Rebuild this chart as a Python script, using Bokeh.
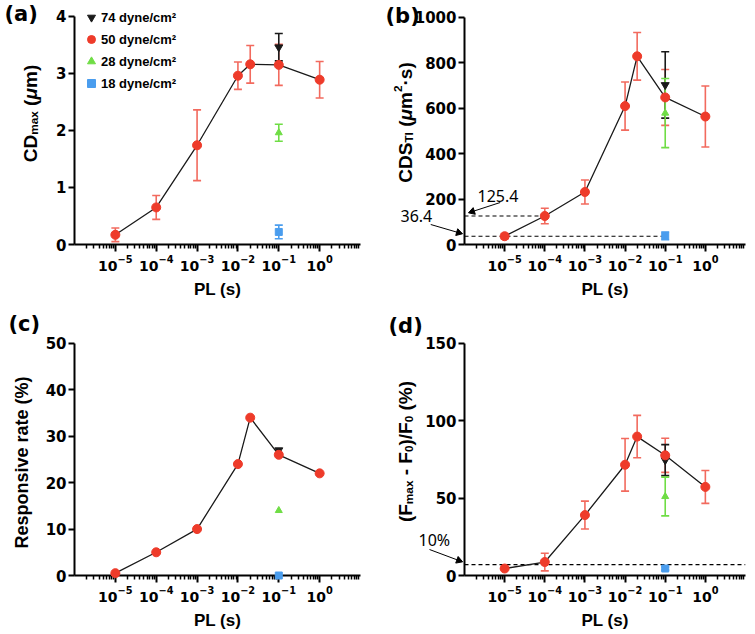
from math import pi, log10, atan2, cos, sin
from bokeh.plotting import figure
from bokeh.models import (Range1d, FixedTicker, ColumnDataSource, Whisker, TeeHead,
                          Legend, LegendItem)
from bokeh.core.properties import value
from bokeh.layouts import gridplot
from bokeh.embed import file_html
from bokeh.resources import INLINE

# ---------------- data ----------------
pl = [1e-5, 1e-4, 1e-3, 1e-2, 2e-2, 1e-1, 1.0]   # pulse length (s), 50 dyne/cm2
pl_single = [1e-1]                                 # other shear stresses

# (a) CDmax (um)
cd_50 = [0.17, 0.65, 1.74, 2.96, 3.16, 3.15, 2.89]
cd_50_err = [0.12, 0.21, 0.62, 0.24, 0.33, 0.36, 0.32]
cd_74, cd_74_err = [3.46], [0.24]
cd_28, cd_28_err = [1.96], [0.15]
cd_18, cd_18_err = [0.22], [0.12]

# (b) CDS_TI (um2 s)
cds_50 = [36.4, 125.4, 231, 609, 828, 647, 563]
cds_50_err = [12, 34, 53, 106, 105, 123, 134]
cds_74, cds_74_err = [702], [146]
cds_28, cds_28_err = [578], [152]
cds_18, cds_18_err = [38], [17]
cds_marks = [125.4, 36.4]          # dashed reference levels
cds_marks_end = [1e-4, 1e-1]       # x where each dashed level ends

# (c) responsive rate (%)
rr_50 = [0.5, 5, 10, 24, 34, 26, 22]
rr_74 = [27]
rr_28 = [14]
rr_18 = [0]

# (d) (Fmax - F0)/F0 (%)
df_50 = [4.5, 8.7, 39, 71.5, 89.7, 77.6, 57.2]
df_50_err = [0, 5.7, 9, 17, 13.7, 11, 10.6]
df_74, df_74_err = [74.5], [10]
df_28, df_28_err = [51], [12.5]
df_18, df_18_err = [4.5], [1]
df_mark = 7.0

x_lo, x_hi = 1e-6, 1e1
major_x = [1e-5, 1e-4, 1e-3, 1e-2, 1e-1, 1.0]
minor_x = [m * 10.0 ** k for k in range(-6, 1) for m in range(2, 10)]

RED = "#EE3B2A"
RED_BAR = "#F26A5E"
BLACK = "#1A1A1A"
GREEN = "#6FDD45"
BLUE = "#4A9DEE"
FONT = "Liberation Sans"
TICK_FONT = "DejaVu Sans"
ANN_FONT = "Noto Sans"

AW = {' ': 278, '(': 333, ')': 333, '%': 889, '-': 333, '/': 278, '.': 278, '·': 278,
      'C': 722, 'D': 722, 'S': 667, 'T': 611, 'I': 278, 'F': 611, 'R': 722, 'P': 667,
      'L': 611, 'a': 556, 'e': 556, 'm': 889, 'x': 556, 's': 556, 'p': 611, 'o': 611,
      'n': 611, 'i': 278, 'v': 556, 'r': 389, 't': 333, 'μ': 611}


def tw(s, size):
    return sum(AW.get(c, 556) for c in s) * size / 1000.0


def stext(p, txt, dx, dy, size, style="bold", font=FONT, angle=0.0,
          align="left", baseline="alphabetic"):
    """Text placed dx,dy pixels from the frame's bottom-left corner (dy upward)."""
    p.text(x=[x_lo], y=[0], text=[txt], x_offset=dx, y_offset=-dy, angle=angle,
           text_font=value(font), text_font_size=value(f"{size:.1f}px"),
           text_font_style=style, text_color="black", text_align=align,
           text_baseline=baseline, level="overlay")


def vlabel(p, pieces, xb, yc, size):
    total = sum(tw(t, size * sc) for t, sc, sh, st in pieces)
    y = yc - total / 2.0
    for t, sc, sh, st in pieces:
        fs = size * sc
        lead = len(t) - len(t.lstrip(" "))
        core = t.strip(" ")
        trail = len(t) - lead - len(core)
        y += tw(" " * lead, fs)
        if core:
            stext(p, core, xb + sh * size, y, fs, style=st, angle=pi / 2)
        y += tw(core, fs) + tw(" " * trail, fs)


def px2data(geom, dx, dy):
    fw, fh, yend = geom
    x = 10 ** (log10(x_lo) + dx * (log10(x_hi) - log10(x_lo)) / fw)
    return x, dy * yend / fh


def arrow(p, geom, x0, y0, x1, y1):
    xa, ya = px2data(geom, x0, y0)
    xb, yb = px2data(geom, x1, y1)
    p.segment(x0=[xa], y0=[ya], x1=[xb], y1=[yb], line_color="black", line_width=1,
              level="overlay")
    th = atan2(y1 - y0, x1 - x0)
    hx, hy = px2data(geom, x1 - 3 * cos(th), y1 - 3 * sin(th))
    p.scatter([hx], [hy], marker="triangle", size=7, angle=th - pi / 2, color="black",
              level="overlay")


def make_panel(w, h, ymax, yend, yticks, mb):
    p = figure(width=w, height=h, x_axis_type="log", x_range=Range1d(x_lo, x_hi),
               y_range=Range1d(0, yend), output_backend="svg", toolbar_location=None,
               min_border_left=mb[0], min_border_right=mb[1], min_border_top=mb[2],
               min_border_bottom=mb[3])
    p.outline_line_color = None
    p.xgrid.visible = False
    p.ygrid.visible = False
    xa = p.xaxis[0]
    ya = p.yaxis[0]
    xa.ticker = FixedTicker(ticks=major_x, minor_ticks=minor_x)
    ya.ticker = FixedTicker(ticks=yticks)
    ya.bounds = (0, ymax)
    for ax in (xa, ya):
        ax.axis_line_width = 2
        ax.axis_line_color = "black"
        ax.major_tick_line_width = 2
        ax.major_tick_line_color = "black"
        ax.major_tick_in = 0
        ax.minor_tick_in = 0
        ax.major_label_text_font = TICK_FONT
        ax.major_label_text_font_style = "bold"
        ax.major_label_text_color = "black"
    xa.major_tick_out = 7
    xa.minor_tick_out = 4
    xa.minor_tick_line_width = 1.5
    xa.minor_tick_line_color = "black"
    xa.major_label_text_font_size = "14px"
    xa.major_label_standoff = 3
    xa.axis_label = "PL (s)"
    xa.axis_label_text_font = FONT
    xa.axis_label_text_font_size = "17px"
    xa.axis_label_text_font_style = "bold"
    xa.axis_label_text_color = "black"
    xa.axis_label_standoff = 6
    ya.major_tick_out = 6
    ya.minor_tick_out = 0
    ya.major_label_standoff = 2
    ya.major_label_text_font_size = "15px"
    return p


def errbars(p, x, y, e, color):
    src = ColumnDataSource(dict(base=x, upper=[a + b for a, b in zip(y, e)],
                                lower=[a - b for a, b in zip(y, e)]))
    p.add_layout(Whisker(source=src, base="base", upper="upper", lower="lower",
                         dimension="height", line_color=color, line_width=1.6,
                         upper_head=TeeHead(size=8, line_color=color, line_width=1.6),
                         lower_head=TeeHead(size=8, line_color=color, line_width=1.6)))


def series(p, y50, y74, y28, y18):
    p.line(pl, y50, line_color=BLACK, line_width=1.3)
    r74 = p.scatter(pl_single, y74, marker="inverted_triangle", size=8, color=BLACK, level="overlay")
    r28 = p.scatter(pl_single, y28, marker="triangle", size=7, color=GREEN, level="overlay")
    r18 = p.scatter(pl_single, y18, marker="square", size=7, color=BLUE, level="overlay")
    r50 = p.scatter(pl, y50, marker="circle", size=9, color=RED, level="overlay")
    return r74, r50, r28, r18


# panel geometry: (frame width, frame height, y-range end)
GA = (288, 242, 4 * 242 / 230.0)
GB = (283, 240, 1000 * 240 / 227.3)
GC = (288, 262, 50 * 262 / 233.0)
GD = (289, 261, 150 * 261 / 232.3)

# ---------------- (a) ----------------
pa = make_panel(375, 310, 4, GA[2], [0, 1, 2, 3, 4], (72, 15, 4, 64))
errbars(pa, pl, cd_50, cd_50_err, RED_BAR)
errbars(pa, pl_single, cd_74, cd_74_err, BLACK)
errbars(pa, pl_single, cd_28, cd_28_err, GREEN)
errbars(pa, pl_single, cd_18, cd_18_err, BLUE)
ra74, ra50, ra28, ra18 = series(pa, cd_50, cd_74, cd_28, cd_18)
legend = Legend(items=[LegendItem(label="74 dyne/cm²", renderers=[ra74]),
                       LegendItem(label="50 dyne/cm²", renderers=[ra50]),
                       LegendItem(label="28 dyne/cm²", renderers=[ra28]),
                       LegendItem(label="18 dyne/cm²", renderers=[ra18])],
                location=(7, 151), border_line_color=None, background_fill_alpha=0,
                padding=0, margin=0, spacing=2, glyph_width=20, glyph_height=20,
                label_height=20, label_standoff=0, label_text_font=FONT,
                label_text_font_size="13px", label_text_font_style="bold",
                label_text_color="black")
pa.add_layout(legend)
vlabel(pa, [("CD", 1, 0, "bold"), ("max", 0.62, 0.2, "bold"), (" (", 1, 0, "bold"),
            ("μ", 1, 0, "bold italic"), ("m)", 1, 0, "bold")], -44, 131, 19)
stext(pa, "(a)", -70, 231, 21, font=TICK_FONT, baseline="middle")

# ---------------- (b) ----------------
pb = make_panel(379, 310, 1000, GB[2], [0, 200, 400, 600, 800, 1000], (87, 9, 4, 66))
for lvl, xe in zip(cds_marks, cds_marks_end):
    pb.line([x_lo, xe], [lvl, lvl], line_color="black", line_width=1.2, line_dash="4 3")
errbars(pb, pl, cds_50, cds_50_err, RED_BAR)
errbars(pb, pl_single, cds_74, cds_74_err, BLACK)
errbars(pb, pl_single, cds_28, cds_28_err, GREEN)
errbars(pb, pl_single, cds_18, cds_18_err, BLUE)
series(pb, cds_50, cds_74, cds_28, cds_18)
stext(pb, f"{cds_marks[0]}", 13, 49, 16, style="normal", font=ANN_FONT)
stext(pb, f"{cds_marks[1]}", -64, 29, 16, style="normal", font=ANN_FONT)
arrow(pb, GB, 36, 42, 5, 32)
arrow(pb, GB, -34, 20, -3, 11)
vlabel(pb, [("CDS", 1, 0, "bold"), ("TI", 0.62, 0.2, "bold"), (" (", 1, 0, "bold"),
            ("μ", 1, 0, "bold italic"), ("m", 1, 0, "bold"), ("2", 0.62, -0.38, "bold"),
            ("·s)", 1, 0, "bold")], -59, 121.5, 19)
stext(pb, "(b)", -79, 229, 21, font=TICK_FONT, baseline="middle")

# ---------------- (c) ----------------
pc = make_panel(375, 323, 50, GC[2], [0, 10, 20, 30, 40, 50], (74, 13, 4, 57))
series(pc, rr_50, rr_74, rr_28, rr_18)
vlabel(pc, [("Responsive rate (%)", 1, 0, "bold")], -53, 113, 18)
stext(pc, "(c)", -66, 252, 21, font=TICK_FONT, baseline="middle")

# ---------------- (d) ----------------
pd = make_panel(379, 323, 150, GD[2], [0, 50, 100, 150], (89, 1, 4, 58))
pd.line([x_lo, x_hi], [df_mark, df_mark], line_color="black", line_width=1.2, line_dash="4 3")
errbars(pd, pl, df_50, df_50_err, RED_BAR)
errbars(pd, pl_single, df_74, df_74_err, BLACK)
errbars(pd, pl_single, df_28, df_28_err, GREEN)
errbars(pd, pl_single, df_18, df_18_err, BLUE)
series(pd, df_50, df_74, df_28, df_18)
stext(pd, "10%", -46, 36, 16, style="normal", font=ANN_FONT)
arrow(pd, GD, -36, 26, -3, 14)
vlabel(pd, [("(F", 1, 0, "bold"), ("max", 0.62, 0.2, "bold"), (" - F", 1, 0, "bold"),
            ("0", 0.62, 0.2, "bold"), (")/F", 1, 0, "bold"), ("0", 0.62, 0.2, "bold"),
            (" (%)", 1, 0, "bold")], -59, 124, 19)
stext(pd, "(d)", -76, 250, 21, font=TICK_FONT, baseline="middle")

grid = gridplot([[pa, pb], [pc, pd]], toolbar_location=None)
open("out.html", "w").write(file_html(grid, INLINE))
